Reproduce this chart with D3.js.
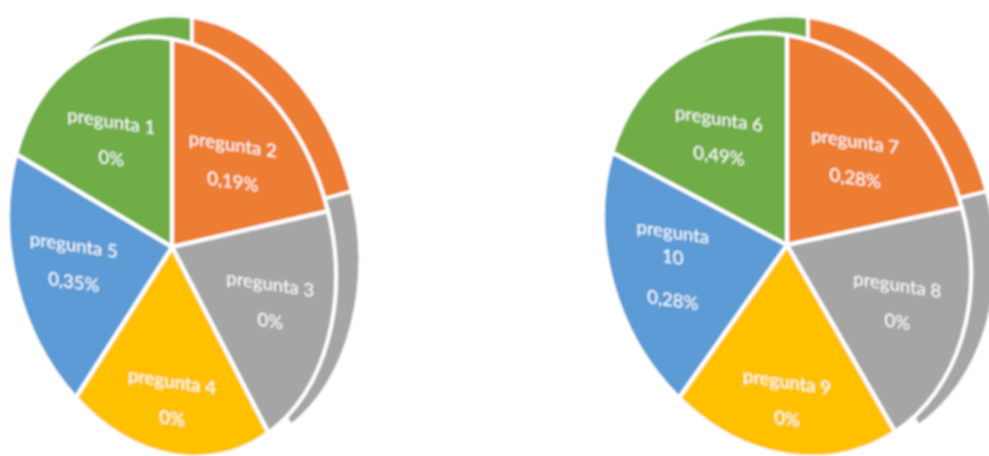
<!DOCTYPE html>
<html>
<head>
<meta charset="utf-8">
<script src="https://cdn.jsdelivr.net/npm/d3@7"></script>
<style>
  html, body { margin: 0; padding: 0; background: #fff; overflow: hidden; }
  text { font-family: Lato, "Open Sans", sans-serif; fill: #fff; text-anchor: middle; }
</style>
</head>
<body>
<div id="chart"></div>
<script>
// Datos de cada pastel
const preguntasIzq = [['pregunta 1'], ['pregunta 2'], ['pregunta 3'], ['pregunta 4'], ['pregunta 5']];
const valoresIzq = [0, 0.19, 0, 0, 0.35];
const preguntasDer = [['pregunta 6'], ['pregunta 7'], ['pregunta 8'], ['pregunta 9'], ['pregunta', '10']];
const valoresDer = [0.49, 0.28, 0, 0, 0.28];
// Las porciones del original son todas iguales, sin relación con el porcentaje
const pesos = [1, 1, 1, 1, 1];
const colores = ['#70ad47', '#ed7d31', '#a5a5a5', '#ffc000', '#5b9bd5'];

const width = 989;
const height = 456;

const svg = d3.select('#chart')
    .append('svg')
    .attr('width', width)
    .attr('height', height);

svg.append('filter')
    .attr('id', 'borroso')
    .append('feGaussianBlur')
    .attr('stdDeviation', 0.8);

const color = d3.scaleOrdinal().domain(d3.range(5)).range(colores);
// La primera porción empieza 72 grados antes de las 12
const giro = -2 * Math.PI / 5;
const pie = d3.pie().value(d => d).sort(null).startAngle(giro).endAngle(giro + 2 * Math.PI);
const radio = 100;
const arc = d3.arc().innerRadius(0).outerRadius(radio);

function formatoValor(v) {
    return String(v).replace('.', ',') + '%';
}

// Pastel inclinado: el círculo se deforma con una matriz para imitar el 3D
function createPie(conf, preguntas, valores) {
    const g = svg.append('g').attr('filter', 'url(#borroso)');
    const slices = pie(pesos);

    // Cara trasera: solo asoman las tres primeras porciones
    g.append('g')
        .attr('transform', `matrix(${conf.back.rx / radio},${conf.back.skew / radio},0,${conf.back.ry / radio},${conf.back.cx},${conf.back.cy})`)
        .selectAll('path')
        .data(slices.slice(0, 3))
        .enter()
        .append('path')
        .attr('d', arc)
        .attr('fill', (d, i) => color(i))
        .attr('stroke', 'white')
        .attr('stroke-width', 3.5)
        .attr('vector-effect', 'non-scaling-stroke');

    // Cara delantera
    g.append('g')
        .attr('transform', `matrix(${conf.rx / radio},${conf.skew / radio},0,${conf.ry / radio},${conf.cx},${conf.cy})`)
        .selectAll('path')
        .data(slices)
        .enter()
        .append('path')
        .attr('d', arc)
        .attr('fill', (d, i) => color(i))
        .attr('stroke', 'white')
        .attr('stroke-width', 4)
        .attr('vector-effect', 'non-scaling-stroke');

    // Etiquetas, inclinadas igual que el pastel
    slices.forEach((d, i) => {
        const ang = (d.startAngle + d.endAngle) / 2;
        const k = i === 3 ? 0.74 : 0.63;
        const x = conf.cx + conf.rx * k * Math.sin(ang) + conf.ajusteX[i];
        const y = conf.cy + conf.skew * k * Math.sin(ang) - conf.ry * k * Math.cos(ang) + conf.ajusteY[i];
        const lineas = preguntas[i];
        const label = g.append('g')
            .attr('transform', `translate(${x},${y}) skewY(8.5)`);

        const inicio = lineas.length > 1 ? -28 : -12;
        lineas.forEach((t, j) => {
            label.append('text')
                .attr('y', inicio + j * 25)
                .attr('font-size', 18.5)
                .text(t);
        });
        label.append('text')
            .attr('y', inicio + (lineas.length - 1) * 25 + (lineas.length > 1 ? 43 : 37))
            .attr('font-size', 18.5)
            .text(formatoValor(valores[i]));
    });
}

createPie({
    cx: 172, cy: 247, rx: 164, ry: 208, skew: 30,
    back: { cx: 192, cy: 235, rx: 168, ry: 218, skew: 25 },
    ajusteX: [0, 0, 0, 0, 0],
    ajusteY: [10, 11, -3, -1, -6]
}, preguntasIzq, valoresIzq);

createPie({
    cx: 787, cy: 245, rx: 184, ry: 210, skew: 29,
    back: { cx: 808, cy: 235, rx: 188, ry: 218, skew: 25 },
    ajusteX: [0, 0, 0, 0, -4],
    ajusteY: [10, 11, 0, 0, -2]
}, preguntasDer, valoresDer);
</script>
</body>
</html>
